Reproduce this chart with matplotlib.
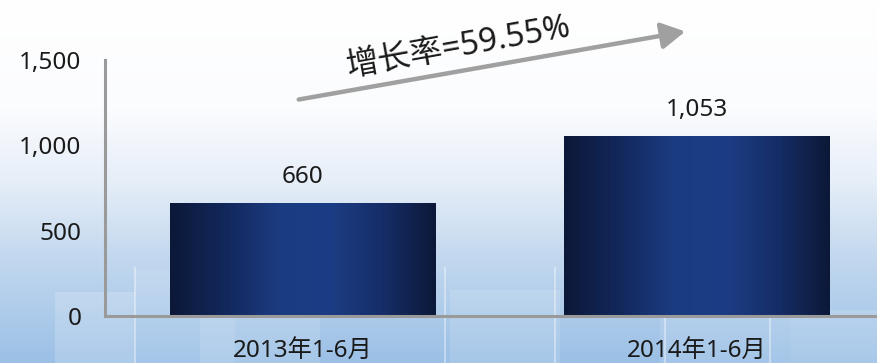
import numpy as np
import matplotlib
matplotlib.use("Agg")
import matplotlib.pyplot as plt
from matplotlib.colors import LinearSegmentedColormap
from matplotlib.patches import Rectangle, FancyArrowPatch

plt.rcParams['font.family'] = ['Noto Sans', 'Noto Sans CJK SC', 'DejaVu Sans']

categories = ["2013年1-6月", "2014年1-6月"]
values = [660, 1053]
value_labels = ["660", "1,053"]
yticks = [0, 500, 1000, 1500]
ytick_labels = ["0", "500", "1,000", "1,500"]
growth_text = "增长率=59.55%"

W, H, DPI = 878, 363, 100
fig = plt.figure(figsize=(W / DPI, H / DPI), dpi=DPI)

# backdrop: white fading into a pale sky blue, with faint window frames
bg = fig.add_axes([0, 0, 1, 1], zorder=0)
bg.set_axis_off()
bg.set_xlim(0, W)
bg.set_ylim(H, 0)
sky = LinearSegmentedColormap.from_list(
    "sky", [(0.0, "#ffffff"), (0.30, "#fbfcfe"), (0.50, "#e6eef8"),
            (0.70, "#c4d9ef"), (1.0, "#9bc0e6")])
grad = np.linspace(0, 1, 256).reshape(-1, 1)
bg.imshow(grad, cmap=sky, aspect="auto", extent=[0, W, H, 0], zorder=0)
for x0, y0, w, h, a in [(55, 292, 80, 80, 0.18), (135, 270, 100, 100, 0.10),
                        (200, 300, 120, 70, 0.12), (450, 290, 110, 80, 0.12),
                        (660, 300, 130, 70, 0.10), (790, 310, 90, 60, 0.14)]:
    bg.add_patch(Rectangle((x0, y0), w, h, facecolor="white", alpha=a,
                           edgecolor="none", zorder=1))
for xv in [135, 445, 555, 665, 770]:
    bg.plot([xv, xv], [268, H], color="white", alpha=0.45, lw=1.2, zorder=1)

# main plot area
ax_left, ax_right = 105 / W, 1.0
ax_bottom, ax_top = (H - 316) / H, (H - 60) / H
ax = fig.add_axes([ax_left, ax_bottom, ax_right - ax_left, ax_top - ax_bottom],
                  zorder=2)
ax.patch.set_alpha(0)
x = np.arange(len(categories))
bars = ax.bar(x, values, width=0.672, color="#1a3a7e", zorder=2)

# horizontal shading inside each bar
shade = LinearSegmentedColormap.from_list(
    "shade", ["#0c1838", "#12275a", "#1b3b80", "#1c3d85", "#162e68", "#0c1838"])
hgrad = np.linspace(0, 1, 256).reshape(1, -1)
for b in bars:
    bx, by, bw, bh = b.get_x(), b.get_y(), b.get_width(), b.get_height()
    im = ax.imshow(hgrad, cmap=shade, aspect="auto",
                   extent=[bx, bx + bw, by, by + bh], zorder=3)
    im.set_clip_path(b)
ax.set_xlim(-0.5006, 1.459)
ax.set_ylim(0, 1500)

for xi, v, lab in zip(x, values, value_labels):
    ax.annotate(lab, (xi, v), xytext=(0, 19), textcoords="offset points",
                ha="center", va="center", fontsize=17.5, color="#1a1a1a")

for s in ["top", "right"]:
    ax.spines[s].set_visible(False)
for s in ["left", "bottom"]:
    ax.spines[s].set_color("#9a9a9a")
    ax.spines[s].set_linewidth(2.2)
    ax.spines[s].set_zorder(4)
ax.set_yticks(yticks)
ax.set_yticklabels(ytick_labels, fontsize=17.5, color="#1a1a1a")
ax.set_xticks(x)
ax.set_xticklabels(categories, fontsize=17.5, color="#1a1a1a")
ax.tick_params(axis="both", length=0)
ax.tick_params(axis="y", pad=17)
ax.tick_params(axis="x", pad=17)

# growth arrow and its caption
ov = fig.add_axes([0, 0, 1, 1], zorder=5)
ov.set_axis_off()
ov.set_xlim(0, W)
ov.set_ylim(H, 0)
ov.add_patch(FancyArrowPatch((296, 100), (688, 31), arrowstyle="-|>,head_length=9,head_width=5",
                             color="#a0a0a0", lw=3.2, mutation_scale=1.6))
ov.text(459, 48, growth_text, rotation=10.2, ha="center", va="center",
        fontsize=23.5, color="#1a1a1a", rotation_mode="anchor",
        family=["Noto Sans", "Noto Sans CJK SC"])

fig.savefig("out.png", dpi=DPI)
